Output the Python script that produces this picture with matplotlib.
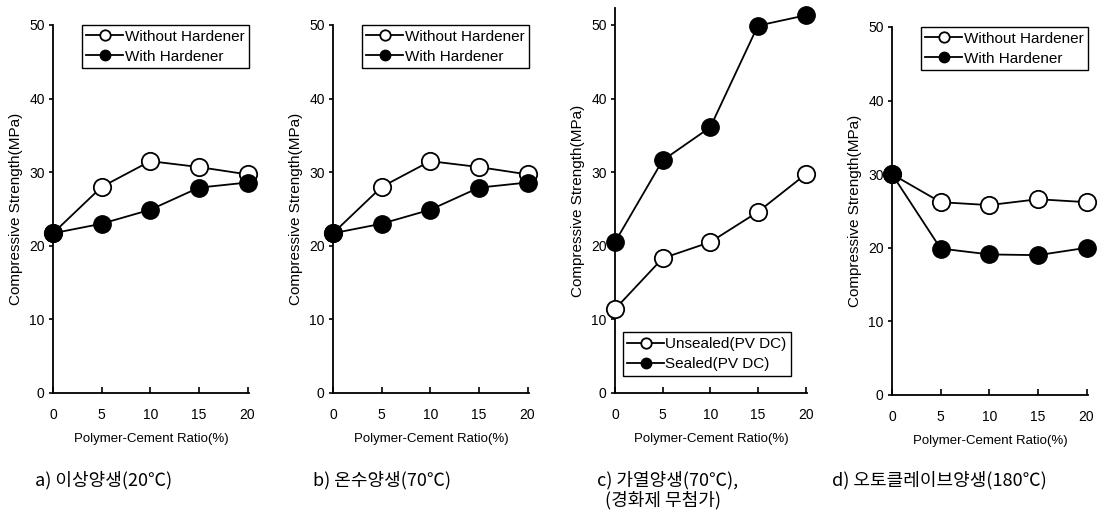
import matplotlib
matplotlib.use('Agg')
import matplotlib.pyplot as plt

# polymer-cement ratio (%)
ratio = [0, 5, 10, 15, 20]

# a) 20C curing
a_without = [21.7, 28.0, 31.5, 30.7, 29.7]
a_with = [21.7, 23.0, 24.9, 27.9, 28.6]

# b) 70C water curing
b_without = [21.7, 28.0, 31.5, 30.7, 29.7]
b_with = [21.7, 23.0, 24.9, 27.9, 28.6]

# c) 70C heat curing, no hardener
c_unsealed = [11.4, 18.3, 20.5, 24.6, 29.7]
c_sealed = [20.5, 31.6, 36.1, 49.9, 51.3]

# d) autoclave 180C
d_without = [30.0, 26.2, 25.8, 26.6, 26.2]
d_with = [30.0, 19.9, 19.1, 19.0, 20.0]

labels_hardener = ['Without Hardener', 'With Hardener']
labels_sealed = ['Unsealed(PV DC)', 'Sealed(PV DC)']
captions = ['a) 이상양생(20℃)', 'b) 온수양생(70℃)', 'c) 가열양생(70℃),\n  (경화제 무첨가)', 'd) 오토클레이브양생(180℃)']

plt.rcParams['font.family'] = ['Liberation Sans', 'DejaVu Sans']

fig = plt.figure(figsize=(11.13, 5.17), dpi=100)

W, H = 1113, 517


def make_axes(left_px, right_px, bottom_px, top_px):
    return fig.add_axes([left_px / W, 1 - bottom_px / H,
                         (right_px - left_px) / W, (bottom_px - top_px) / H])


def style_axes(ax, ymax):
    ax.set_xlim(0, 20.15)
    ax.set_ylim(0, ymax)
    ax.set_xticks(ratio)
    ax.set_yticks([0, 10, 20, 30, 40, 50])
    ax.spines['top'].set_visible(False)
    ax.spines['right'].set_visible(False)
    for s in ['left', 'bottom']:
        ax.spines[s].set_linewidth(1.3)
    ax.tick_params(axis='x', direction='in', length=4, width=1.2, labelsize=10, pad=11)
    ax.tick_params(axis='y', direction='out', length=3, width=1.2, labelsize=10, pad=3)
    ax.set_xlabel('Polymer-Cement Ratio(%)', fontsize=9.5, labelpad=8)
    ax.set_ylabel('Compressive Strength(MPa)', fontsize=11, labelpad=4)


def draw(ax, open_vals, filled_vals):
    l1, = ax.plot(ratio, open_vals, color='black', lw=1.3, marker='o', ms=12.5,
                  mfc='white', mec='black', mew=1.3, clip_on=False, zorder=3)
    l2, = ax.plot(ratio, filled_vals, color='black', lw=1.3, marker='o', ms=12.5,
                  mfc='black', mec='black', clip_on=False, zorder=4)
    return l1, l2


def add_legend(ax, handles, labels, loc, anchor):
    leg = ax.legend(handles, labels, loc=loc, bbox_to_anchor=anchor, fontsize=11,
                    frameon=True, fancybox=False, edgecolor='black', framealpha=1,
                    handlelength=2.4, handletextpad=0.1, markerscale=0.6,
                    borderpad=0.3, labelspacing=0.4, borderaxespad=0)
    leg.get_frame().set_linewidth(1.0)


ax_a = make_axes(53, 249, 393, 25)
style_axes(ax_a, 50)
h = draw(ax_a, a_without, a_with)
add_legend(ax_a, h, labels_hardener, 'upper right', (1.0, 1.0))

ax_b = make_axes(333, 529, 393, 25)
style_axes(ax_b, 50)
h = draw(ax_b, b_without, b_with)
add_legend(ax_b, h, labels_hardener, 'upper right', (1.0, 1.0))

ax_c = make_axes(615, 807, 393, 8)
style_axes(ax_c, 52.3)
h = draw(ax_c, c_unsealed, c_sealed)
add_legend(ax_c, h, labels_sealed, 'lower left', (0.04, 0.045))

ax_d = make_axes(892, 1088, 395, 27)
style_axes(ax_d, 50)
h = draw(ax_d, d_without, d_with)
add_legend(ax_d, h, labels_hardener, 'upper right', (1.0, 1.0))

cap_x = [35, 313, 597, 832]
for x, cap in zip(cap_x, captions):
    fig.text(x / W, 1 - 471 / H, cap, fontsize=13, va='top', ha='left',
             family=['Noto Sans CJK KR', 'DejaVu Sans'], linespacing=1.1)

fig.savefig('out.png', dpi=100)
